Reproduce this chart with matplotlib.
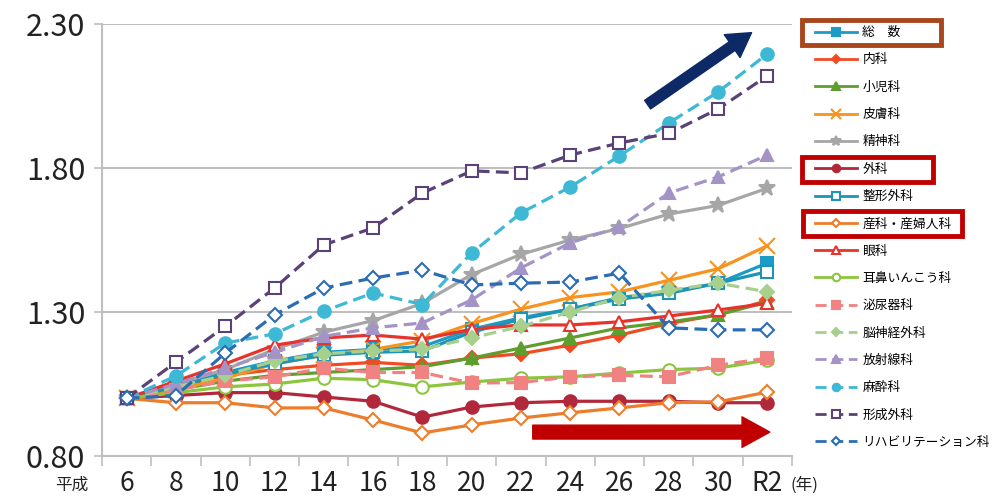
import matplotlib
matplotlib.use("Agg")
import matplotlib.pyplot as plt
from matplotlib.patches import Rectangle
from matplotlib.transforms import Bbox

plt.rcParams['font.family'] = ['Noto Sans CJK JP', 'DejaVu Sans']

# 年次 (平成6年 = 1.00 とした指数)
years = ['6', '8', '10', '12', '14', '16', '18', '20', '22', '24', '26', '28', '30', 'R2']

sousu = [1.00, 1.04, 1.09, 1.13, 1.16, 1.17, 1.18, 1.24, 1.28, 1.31, 1.35, 1.37, 1.40, 1.47]
naika = [1.00, 1.04, 1.08, 1.10, 1.115, 1.125, 1.115, 1.14, 1.155, 1.185, 1.22, 1.26, 1.29, 1.34]
shouni = [1.00, 1.03, 1.06, 1.08, 1.09, 1.10, 1.11, 1.14, 1.175, 1.21, 1.245, 1.265, 1.29, 1.335]
hifu = [1.00, 1.03, 1.07, 1.12, 1.15, 1.17, 1.20, 1.26, 1.31, 1.35, 1.37, 1.41, 1.45, 1.53]
seishin = [1.00, 1.05, 1.10, 1.17, 1.23, 1.27, 1.33, 1.43, 1.50, 1.55, 1.59, 1.64, 1.67, 1.73]
geka = [1.00, 1.01, 1.02, 1.02, 1.005, 0.99, 0.935, 0.97, 0.985, 0.99, 0.99, 0.99, 0.985, 0.985]
seikei = [1.00, 1.04, 1.085, 1.12, 1.15, 1.16, 1.165, 1.23, 1.275, 1.31, 1.345, 1.365, 1.40, 1.44]
sanka = [1.00, 0.985, 0.985, 0.967, 0.967, 0.925, 0.88, 0.908, 0.932, 0.95, 0.967, 0.985, 0.988, 1.022]
ganka = [1.00, 1.06, 1.12, 1.185, 1.21, 1.22, 1.206, 1.24, 1.255, 1.255, 1.266, 1.286, 1.307, 1.33]
jibi = [1.00, 1.02, 1.04, 1.05, 1.07, 1.065, 1.04, 1.057, 1.07, 1.075, 1.088, 1.10, 1.105, 1.133]
hinyouki = [1.00, 1.03, 1.06, 1.075, 1.105, 1.09, 1.09, 1.053, 1.055, 1.075, 1.08, 1.075, 1.115, 1.14]
noushinkei = [1.00, 1.04, 1.08, 1.13, 1.155, 1.165, 1.17, 1.21, 1.25, 1.30, 1.35, 1.375, 1.40, 1.37]
houshasen = [1.00, 1.05, 1.105, 1.16, 1.215, 1.245, 1.262, 1.342, 1.453, 1.54, 1.595, 1.713, 1.769, 1.845]
masui = [1.00, 1.078, 1.192, 1.224, 1.303, 1.366, 1.326, 1.505, 1.644, 1.734, 1.842, 1.956, 2.064, 2.196]
keisei = [1.00, 1.126, 1.25, 1.383, 1.533, 1.592, 1.713, 1.79, 1.783, 1.845, 1.887, 1.92, 2.005, 2.12]
riha = [1.00, 1.01, 1.157, 1.29, 1.383, 1.418, 1.445, 1.394, 1.40, 1.404, 1.435, 1.245, 1.238, 1.238]

# (label, data, color, linestyle, marker, filled)
series = [
    ('総\u3000数', sousu, '#1B9BC6', '-', 's', True),
    ('内科', naika, '#EF4B24', '-', 'D', True),
    ('小児科', shouni, '#5E9E2E', '-', '^', True),
    ('皮膚科', hifu, '#F7931E', '-', 'x', True),
    ('精神科', seishin, '#A6A6A6', '-', '*', True),
    ('外科', geka, '#B0283A', '-', 'o', True),
    ('整形外科', seikei, '#1E94B8', '-', 's', False),
    ('産科・産婦人科', sanka, '#EE7D2B', '-', 'D', False),
    ('眼科', ganka, '#E8332C', '-', '^', False),
    ('耳鼻いんこう科', jibi, '#8CC63F', '-', 'o', False),
    ('泌尿器科', hinyouki, '#F08282', '--', 's', True),
    ('脳神経外科', noushinkei, '#A8D08D', '--', 'D', True),
    ('放射線科', houshasen, '#A493C6', '--', '^', True),
    ('麻酔科', masui, '#3DB8D5', '--', 'o', True),
    ('形成外科', keisei, '#5A4177', '--', 's', False),
    ('リハビリテーション科', riha, '#2B6CB3', '--', 'D', False),
]

fig = plt.figure(figsize=(10, 5), dpi=100)
ax = fig.add_axes([0.102, 0.088, 0.69, 0.864])

x = list(range(len(years)))
handles = []
for label, vals, col, ls, mk, filled in series:
    ms = 9 if mk in ('o', 's', '^') else 8
    if mk == 'D':
        ms = 7
    if mk in ('x', '*'):
        ms = 12
    line, = ax.plot(x, vals, color=col, linestyle=ls, linewidth=2.3,
                    marker=mk, markersize=ms,
                    markerfacecolor=col if filled else 'white',
                    markeredgecolor=col, markeredgewidth=1.5,
                    dashes=(4, 2) if ls == '--' else (None, None),
                    label=label)
    handles.append(line)

ax.set_xlim(-0.5, len(years) - 0.5)
ax.set_ylim(0.80, 2.30)
ax.set_yticks([0.80, 1.30, 1.80, 2.30])
ax.set_yticklabels(['0.80', '1.30', '1.80', '2.30'])
ax.set_xticks(x)
ax.set_xticklabels(years)
ax.set_xticks([i - 0.5 for i in range(len(years) + 1)], minor=True)
ax.tick_params(axis='x', which='major', length=0, labelsize=19, pad=10, colors='#222222')
ax.tick_params(axis='x', which='minor', length=7, width=1.2, color='#BFBFBF')
ax.tick_params(axis='y', length=6, width=1.2, color='#BFBFBF', labelsize=22, pad=6,
               labelcolor='#222222')
ax.grid(axis='y', color='#BFBFBF', linewidth=1.5)
ax.set_axisbelow(True)
for s in ('top', 'right'):
    ax.spines[s].set_visible(False)
for s in ('left', 'bottom'):
    ax.spines[s].set_color('#BFBFBF')
    ax.spines[s].set_linewidth(1.5)

fig.text(0.055, 0.02, '平成', fontsize=12, color='#222222')
fig.text(0.79, 0.02, '(年)', fontsize=12, color='#222222')

# arrows
ax.annotate('', xy=(12.68, 2.27), xytext=(10.57, 2.02),
            arrowprops=dict(arrowstyle='simple,head_length=1.7,head_width=2.0,tail_width=0.75',
                            color='#0E2A66', mutation_scale=10, shrinkA=0, shrinkB=0))
ax.annotate('', xy=(13.05, 0.883), xytext=(8.24, 0.883),
            arrowprops=dict(arrowstyle='simple,head_length=2.0,head_width=2.2,tail_width=1.0',
                            color='#C00000', mutation_scale=10, shrinkA=0, shrinkB=0))

leg = fig.legend(handles=handles, loc='upper left', bbox_to_anchor=(0.81, 0.958),
                 frameon=False, fontsize=9.2, handlelength=3.3, handletextpad=0.4,
                 labelspacing=1.12, numpoints=1, borderaxespad=0, markerscale=0.6)
for lh in leg.legend_handles:
    lh.set_linewidth(2.0)

# boxes around highlighted legend entries
fig.canvas.draw()
r = fig.canvas.get_renderer()
box_specs = [(0, '#A8461C', 40), (5, '#C00000', 45), (7, '#C00000', 10)]
inv = fig.transFigure.inverted()
for idx, col, extra in box_specs:
    t = leg.get_texts()[idx].get_window_extent(r)
    h = leg.legend_handles[idx].get_window_extent(r)
    bb = Bbox.union([t, h])
    x0, y0 = bb.x0 - 9, bb.y0 - 6
    x1, y1 = bb.x1 + extra, bb.y1 + 6
    (fx0, fy0), (fx1, fy1) = inv.transform([(x0, y0), (x1, y1)])
    fig.patches.append(Rectangle((fx0, fy0), fx1 - fx0, fy1 - fy0, transform=fig.transFigure,
                                 fill=False, edgecolor=col, linewidth=3.5))

fig.savefig('out.png', dpi=100)
